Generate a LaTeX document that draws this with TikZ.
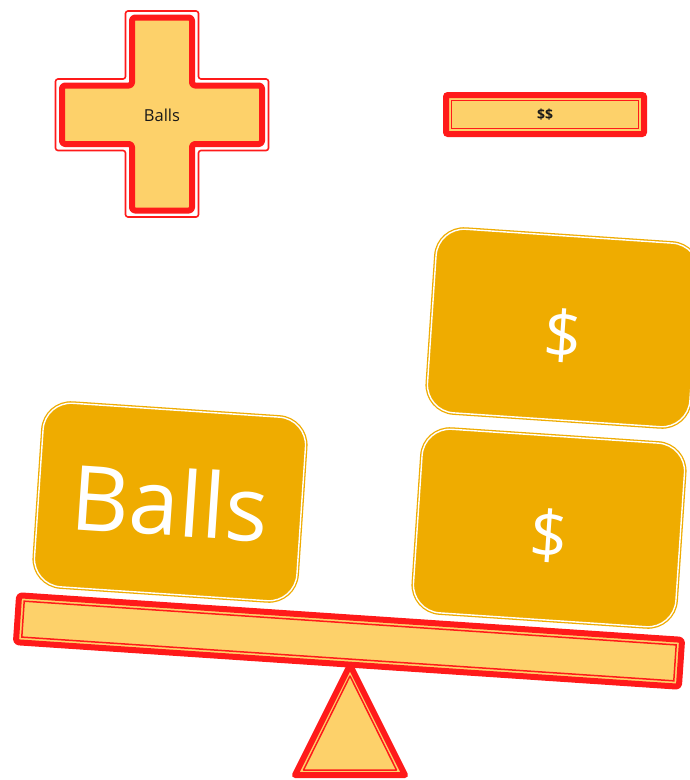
\documentclass[tikz,border=0pt]{standalone}
\usepackage{fontspec}
\setmainfont{Open Sans}
\definecolor{lightfill}{RGB}{253,209,106}
\definecolor{goldfill}{RGB}{239,172,0}
\definecolor{framered}{RGB}{255,26,26}
\begin{document}
\begin{tikzpicture}[x=1pt,y=-1pt,
  redthick/.style={draw=framered, line width=6pt, line join=round},
  redthin/.style={draw=framered, line width=1.5pt},
  goldbox/.style={draw=goldfill, fill=goldfill, line width=1.3pt, double=white,
    double distance=1.4pt, rounded corners=28pt, minimum width=263pt,
    minimum height=184pt, inner sep=0pt, text=white, rotate=-3.84},
]
\fill[white] (0,0) rectangle (689,780);
\useasboundingbox (0,0) rectangle (689,780);

% cross
\draw[framered, line width=1.6pt, rounded corners=2.5pt]
  (125.5,11) -- (198.5,11) -- (198.5,79) -- (268.5,79) -- (268.5,150.5)
  -- (198.5,150.5) -- (198.5,217) -- (125.5,217) -- (125.5,150.5)
  -- (55.5,150.5) -- (55.5,79) -- (125.5,79) -- cycle;
\filldraw[fill=lightfill, redthick, rounded corners=3pt]
  (132,17.5) -- (192,17.5) -- (192,85.5) -- (262,85.5) -- (262,144)
  -- (192,144) -- (192,210.5) -- (132,210.5) -- (132,144)
  -- (62,144) -- (62,85.5) -- (132,85.5) -- cycle;
\node[font=\fontsize{16.5}{19}\selectfont, text=black!90] (crosslabel) at (162,115) {Balls};

% money rectangle
\node[draw=framered, line width=6pt, fill=lightfill, rounded corners=2pt,
  minimum width=198pt, minimum height=39pt, inner sep=0pt, outer sep=0pt,
  font=\bfseries\fontsize{14}{16}\selectfont, text=black!90] (money) at (545,114.5) {\$\$};
\draw[redthin] ([xshift=5.5pt,yshift=-5.5pt]money.north west)
  rectangle ([xshift=-5.5pt,yshift=5.5pt]money.south east);

% fulcrum
\filldraw[fill=lightfill, redthick] (350,665) -- (405,775) -- (295,775) -- cycle;
\draw[redthin, line join=round] (350,676) -- (396.5,770) -- (303.5,770) -- cycle;

% beam
\begin{scope}[rotate around={-3.84:(349,641)}]
\filldraw[fill=lightfill, redthick, rounded corners=3pt] (16.75,617.5) rectangle (681.25,664.5);
\draw[redthin] (22.25,623) rectangle (675.75,659);
\end{scope}

% weights
\node[goldbox, font=\fontsize{90}{94}\selectfont] (ballsbox) at (170,502) {Balls};
\node[goldbox, font=\fontsize{66}{72}\selectfont, text height=62pt, text depth=0pt] (dollartop) at (563,328) {\$};
\node[goldbox, font=\fontsize{66}{72}\selectfont, text height=62pt, text depth=0pt] (dollarbottom) at (549,528) {\$};
\end{tikzpicture}
\end{document}
